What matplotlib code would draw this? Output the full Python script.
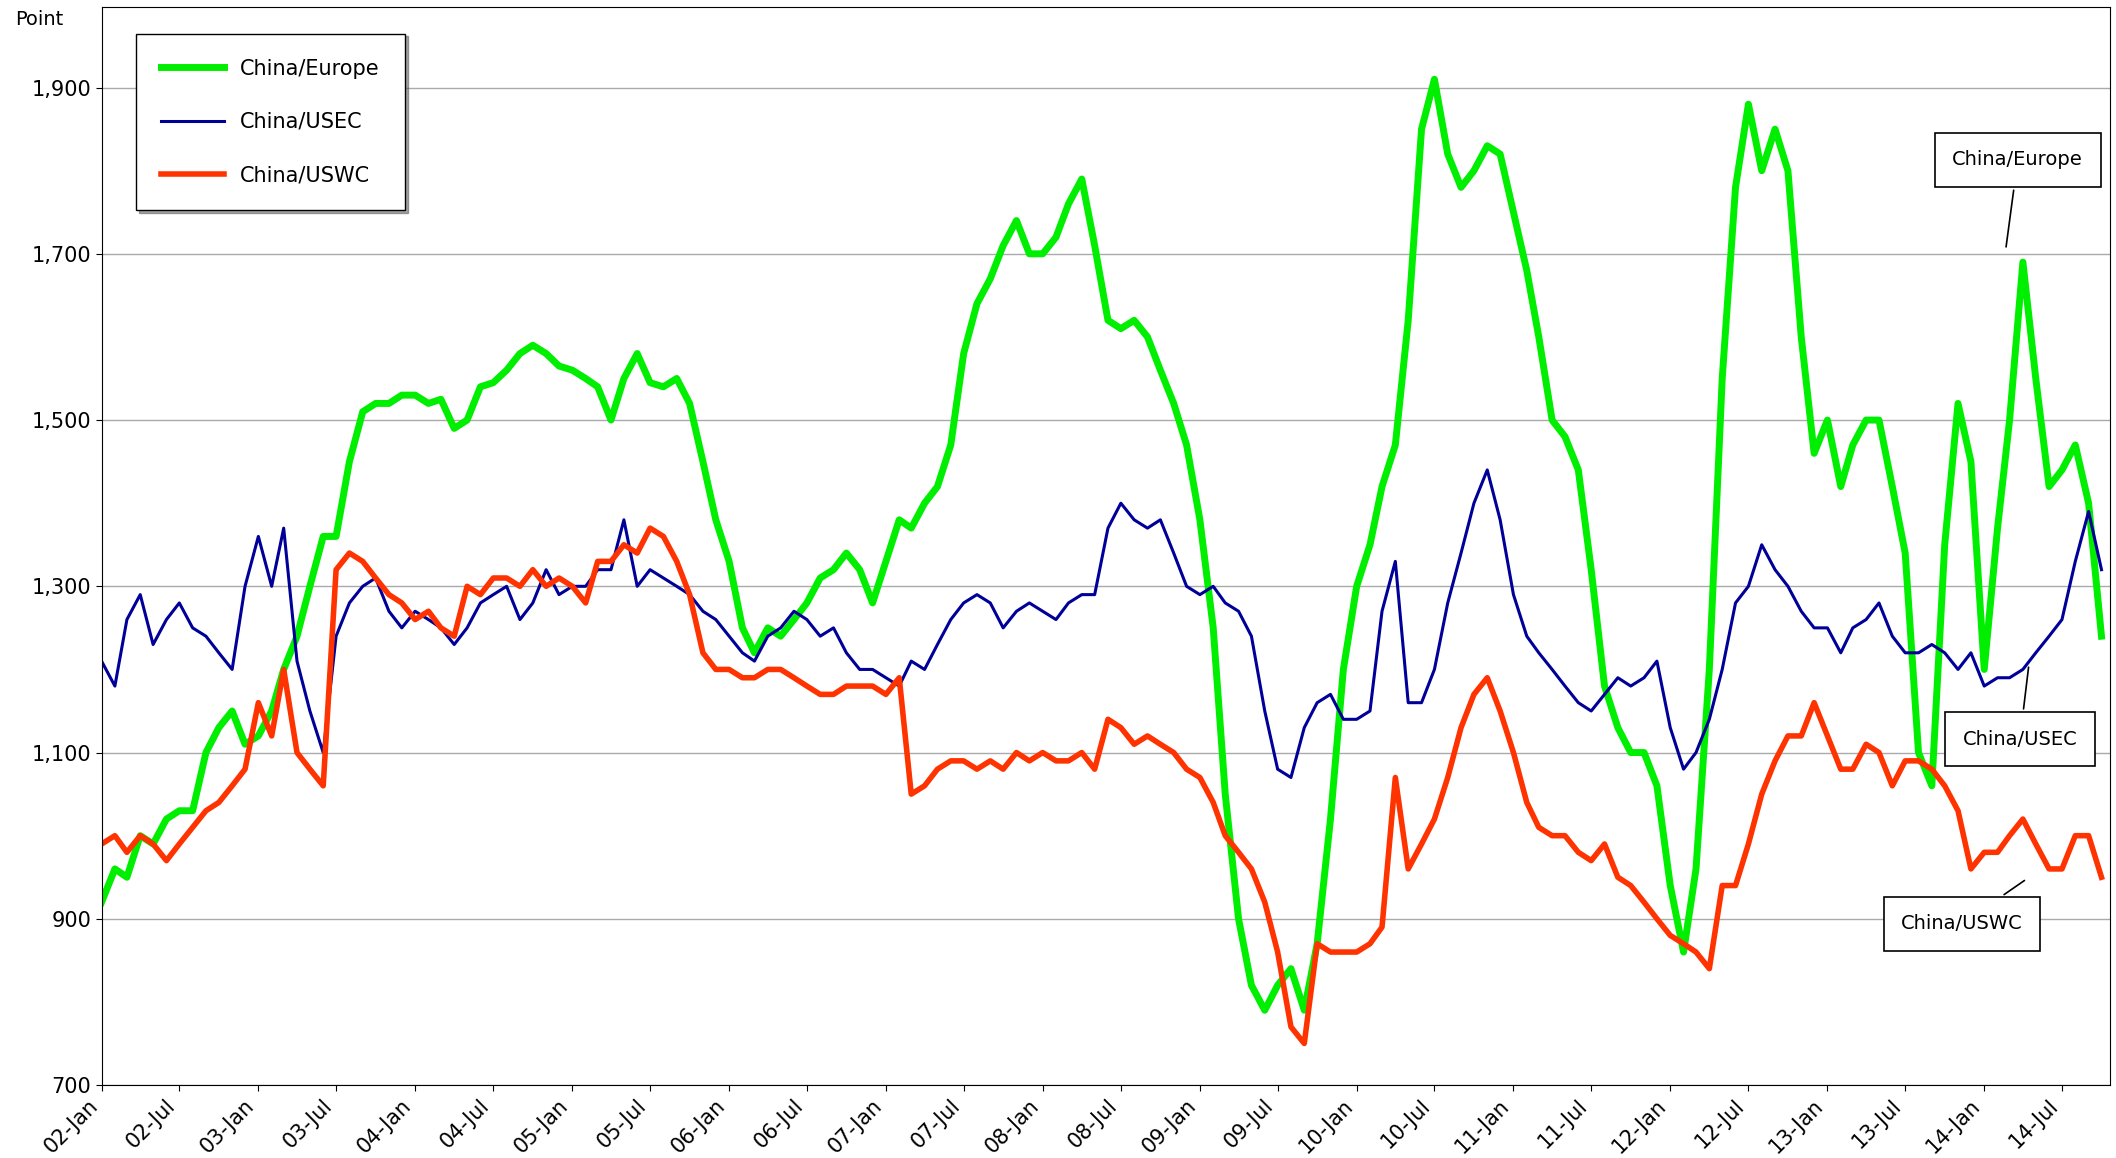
import matplotlib
matplotlib.use("Agg")
import matplotlib.pyplot as plt
import pandas as pd

# monthly readings, Jan 2002 .. Oct 2014
europe = [
    920, 960, 950, 1000, 990, 1020, 1030, 1030, 1100, 1130, 1150, 1110,
    1120, 1150, 1200, 1240, 1300, 1360, 1360, 1450, 1510, 1520, 1520, 1530,
    1530, 1520, 1525, 1490, 1500, 1540, 1545, 1560, 1580, 1590, 1580, 1565,
    1560, 1550, 1540, 1500, 1550, 1580, 1545, 1540, 1550, 1520, 1450, 1380,
    1330, 1250, 1220, 1250, 1240, 1260, 1280, 1310, 1320, 1340, 1320, 1280,
    1330, 1380, 1370, 1400, 1420, 1470, 1580, 1640, 1670, 1710, 1740, 1700,
    1700, 1720, 1760, 1790, 1710, 1620, 1610, 1620, 1600, 1560, 1520, 1470,
    1380, 1250, 1050, 900, 820, 790, 820, 840, 790, 870, 1020, 1200,
    1300, 1350, 1420, 1470, 1620, 1850, 1910, 1820, 1780, 1800, 1830, 1820,
    1750, 1680, 1600, 1500, 1480, 1440, 1320, 1180, 1130, 1100, 1100, 1060,
    940, 860, 960, 1200, 1550, 1780, 1880, 1800, 1850, 1800, 1600, 1460,
    1500, 1420, 1470, 1500, 1500, 1420, 1340, 1100, 1060, 1350, 1520, 1450,
    1200, 1370, 1500, 1690, 1550, 1420, 1440, 1470, 1400, 1240,
]
usec = [
    1210, 1180, 1260, 1290, 1230, 1260, 1280, 1250, 1240, 1220, 1200, 1300,
    1360, 1300, 1370, 1210, 1150, 1100, 1240, 1280, 1300, 1310, 1270, 1250,
    1270, 1260, 1250, 1230, 1250, 1280, 1290, 1300, 1260, 1280, 1320, 1290,
    1300, 1300, 1320, 1320, 1380, 1300, 1320, 1310, 1300, 1290, 1270, 1260,
    1240, 1220, 1210, 1240, 1250, 1270, 1260, 1240, 1250, 1220, 1200, 1200,
    1190, 1180, 1210, 1200, 1230, 1260, 1280, 1290, 1280, 1250, 1270, 1280,
    1270, 1260, 1280, 1290, 1290, 1370, 1400, 1380, 1370, 1380, 1340, 1300,
    1290, 1300, 1280, 1270, 1240, 1150, 1080, 1070, 1130, 1160, 1170, 1140,
    1140, 1150, 1270, 1330, 1160, 1160, 1200, 1280, 1340, 1400, 1440, 1380,
    1290, 1240, 1220, 1200, 1180, 1160, 1150, 1170, 1190, 1180, 1190, 1210,
    1130, 1080, 1100, 1140, 1200, 1280, 1300, 1350, 1320, 1300, 1270, 1250,
    1250, 1220, 1250, 1260, 1280, 1240, 1220, 1220, 1230, 1220, 1200, 1220,
    1180, 1190, 1190, 1200, 1220, 1240, 1260, 1330, 1390, 1320,
]
uswc = [
    990, 1000, 980, 1000, 990, 970, 990, 1010, 1030, 1040, 1060, 1080,
    1160, 1120, 1200, 1100, 1080, 1060, 1320, 1340, 1330, 1310, 1290, 1280,
    1260, 1270, 1250, 1240, 1300, 1290, 1310, 1310, 1300, 1320, 1300, 1310,
    1300, 1280, 1330, 1330, 1350, 1340, 1370, 1360, 1330, 1290, 1220, 1200,
    1200, 1190, 1190, 1200, 1200, 1190, 1180, 1170, 1170, 1180, 1180, 1180,
    1170, 1190, 1050, 1060, 1080, 1090, 1090, 1080, 1090, 1080, 1100, 1090,
    1100, 1090, 1090, 1100, 1080, 1140, 1130, 1110, 1120, 1110, 1100, 1080,
    1070, 1040, 1000, 980, 960, 920, 860, 770, 750, 870, 860, 860,
    860, 870, 890, 1070, 960, 990, 1020, 1070, 1130, 1170, 1190, 1150,
    1100, 1040, 1010, 1000, 1000, 980, 970, 990, 950, 940, 920, 900,
    880, 870, 860, 840, 940, 940, 990, 1050, 1090, 1120, 1120, 1160,
    1120, 1080, 1080, 1110, 1100, 1060, 1090, 1090, 1080, 1060, 1030, 960,
    980, 980, 1000, 1020, 990, 960, 960, 1000, 1000, 950,
]
dates = pd.date_range("2002-01-01", periods=len(europe), freq="MS")
tick_dates = pd.date_range("2002-01-01", "2014-07-01", freq="6MS")
tick_labels = [d.strftime("%y-%b") for d in tick_dates]

fig = plt.figure(figsize=(21.16, 11.58), dpi=100)
ax = fig.add_axes([0.048, 0.063, 0.949, 0.931])

ax.plot(dates, europe, color="#00ee00", lw=5, label="China/Europe")
ax.plot(dates, usec, color="#000099", lw=2.2, label="China/USEC")
ax.plot(dates, uswc, color="#ff3300", lw=4, label="China/USWC")

ax.set_xlim(pd.Timestamp("2002-01-01"), pd.Timestamp("2014-10-20"))
ax.set_ylim(700, 1997)
ax.set_yticks(range(700, 2000, 200))
ax.set_yticklabels([f"{v:,}" for v in range(700, 2000, 200)], fontsize=15)
ax.set_xticks(tick_dates)
ax.set_xticklabels(tick_labels, rotation=45, ha="right", fontsize=15)
ax.grid(axis="y", color="#aaaaaa", lw=1)
ax.tick_params(length=4)
ax.text(-0.043, 0.997, "Point", transform=ax.transAxes, fontsize=14, va="top")

leg = ax.legend(loc="upper left", bbox_to_anchor=(0.012, 0.985), fontsize=15,
                frameon=True, fancybox=False, shadow=True, borderpad=1.2,
                labelspacing=1.6, handlelength=3)
leg.get_frame().set_edgecolor("black")

box = dict(boxstyle="square,pad=0.9", fc="white", ec="black", lw=1.2)
arr = dict(arrowstyle="-", color="black", lw=1.2)
ax.annotate("China/Europe", xy=(pd.Timestamp("2014-02-20"), 1705),
            xytext=(pd.Timestamp("2014-03-20"), 1813), fontsize=14,
            ha="center", va="center", bbox=box, arrowprops=arr)
ax.annotate("China/USEC", xy=(pd.Timestamp("2014-04-15"), 1206),
            xytext=(pd.Timestamp("2014-03-25"), 1116), fontsize=14,
            ha="center", va="center", bbox=box, arrowprops=arr)
ax.annotate("China/USWC", xy=(pd.Timestamp("2014-04-10"), 948),
            xytext=(pd.Timestamp("2013-11-10"), 894), fontsize=14,
            ha="center", va="center", bbox=box, arrowprops=arr)

fig.savefig("out.png")
